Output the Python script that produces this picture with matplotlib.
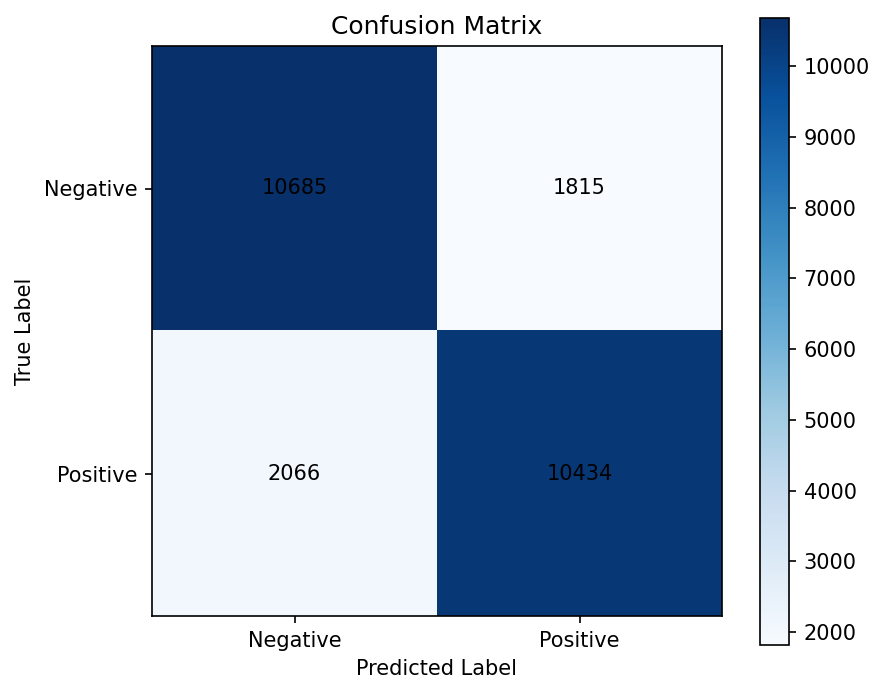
import numpy as np
import matplotlib
matplotlib.use("Agg")
import matplotlib.pyplot as plt

class_names = ["Negative", "Positive"]
cm = np.array([[10685, 1815],
               [2066, 10434]])

fig = plt.figure(figsize=(884 / 150, 694 / 150), dpi=150)
ax = fig.add_axes([152 / 884, 78 / 694, 570 / 884, 570 / 694])
cax = fig.add_axes([760 / 884, 49 / 694, 29 / 884, 627 / 694])

im = ax.imshow(cm, interpolation="nearest", cmap=plt.cm.Blues, aspect="auto")
cb = fig.colorbar(im, cax=cax)
cb.set_ticks(np.arange(2000, 10001, 1000))

ax.set_title("Confusion Matrix")
ax.set_xticks(np.arange(len(class_names)))
ax.set_yticks(np.arange(len(class_names)))
ax.set_xticklabels(class_names)
ax.set_yticklabels(class_names)
ax.set_xlabel("Predicted Label")
ax.set_ylabel("True Label")

for i in range(cm.shape[0]):
    for j in range(cm.shape[1]):
        ax.text(j, i, str(cm[i, j]), ha="center", va="center", color="black")

fig.savefig("out.png", dpi=150)
